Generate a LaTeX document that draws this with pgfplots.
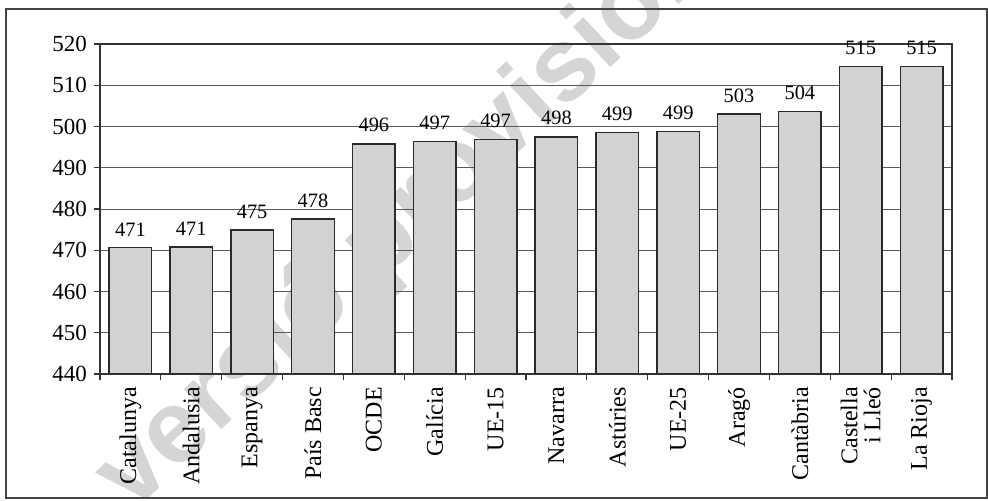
\documentclass[border=0pt]{standalone}
\usepackage{pgfplots}
\pgfplotsset{compat=1.18}
\usepackage{fontspec}
\setmainfont{Liberation Serif}
\newfontfamily\wmfont{Liberation Sans}
\definecolor{barfill}{HTML}{D1D2D4}
\definecolor{bardraw}{HTML}{2A2A2A}
\definecolor{gridgray}{HTML}{5A5A5A}
\definecolor{axisgray}{HTML}{333333}
\definecolor{framegray}{HTML}{444444}
\definecolor{wmgray}{HTML}{D4D5D7}
\begin{document}
\begin{tikzpicture}
\useasboundingbox (-50pt,-63.5pt) rectangle (444pt,187pt);
\node[rotate=43, anchor=base west, text=wmgray, font=\wmfont\bfseries\fontsize{52}{54}\selectfont, inner sep=0pt] at (16pt,-70pt) {versió provisional};
\draw[draw=framegray, line width=0.6pt] (-47pt,-62pt) rectangle (443.5pt,182.5pt);
\begin{axis}[
  at={(0,0)}, anchor=south west,
  width=426pt, height=165pt, scale only axis,
  xmin=-0.5, xmax=13.5, ymin=440, ymax=520,
  ytick={440,450,...,520},
  xtick={0,...,13},
  xticklabels={Catalunya, Andalusia, Espanya, País Basc, OCDE, Galícia, UE-15, Navarra, Astúries, UE-25, Aragó, Cantàbria, {Castella\\i Lleó}, La Rioja},
  minor xtick={-0.5,0.5,...,13.5},
  every major x tick/.append style={draw=none},
  tick align=outside,
  major tick length=3pt,
  minor tick length=3pt,
  xtick pos=lower, ytick pos=left,
  tick style={draw=axisgray, line width=0.6pt},
  axis line style={draw=axisgray, line width=0.6pt},
  ymajorgrids,
  grid style={draw=gridgray, line width=0.5pt},
  /pgf/number format/assume math mode=true,
  yticklabel style={font=\fontsize{11.5}{12}\selectfont},
  xticklabel style={rotate=90, anchor=east, align=right, font=\fontsize{12}{11.5}\selectfont},
]
\addplot[ybar, bar width=0.7, fill=barfill, draw=bardraw, line width=0.7pt,
  nodes near coords, point meta=explicit symbolic,
  nodes near coords style={font=\fontsize{10.2}{10}\selectfont, anchor=south, inner sep=0pt, yshift=5.5pt, text=black}]
coordinates {
(0,470.6) [471]
(1,470.8) [471]
(2,474.9) [475]
(3,477.6) [478]
(4,495.8) [496]
(5,496.3) [497]
(6,496.9) [497]
(7,497.5) [498]
(8,498.6) [499]
(9,498.8) [499]
(10,503.0) [503]
(11,503.6) [504]
(12,514.5) [515]
(13,514.5) [515]
};
\end{axis}
\end{tikzpicture}
\end{document}
